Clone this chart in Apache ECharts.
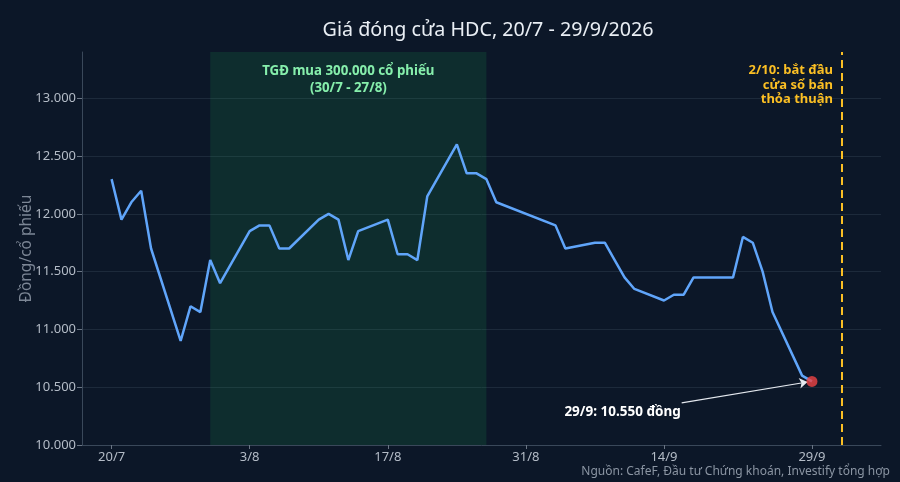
<!DOCTYPE html>
<html>
<head>
<meta charset="utf-8">
<script src="https://cdn.jsdelivr.net/npm/echarts@6/dist/echarts.min.js"></script>
<style>
html,body{margin:0;padding:0;background:#0c1728;}
#c{width:900px;height:482px;}
</style>
</head>
<body>
<div id="c"></div>
<script>
const dates = ['2026-07-20','2026-07-21','2026-07-22','2026-07-23','2026-07-24',
  '2026-07-27','2026-07-28','2026-07-29','2026-07-30','2026-07-31',
  '2026-08-03','2026-08-04','2026-08-05','2026-08-06','2026-08-07',
  '2026-08-10','2026-08-11','2026-08-12','2026-08-13','2026-08-14',
  '2026-08-17','2026-08-18','2026-08-19','2026-08-20','2026-08-21',
  '2026-08-24','2026-08-25','2026-08-26','2026-08-27','2026-08-28',
  '2026-09-03','2026-09-04',
  '2026-09-07','2026-09-08','2026-09-09','2026-09-10','2026-09-11',
  '2026-09-14','2026-09-15','2026-09-16','2026-09-17','2026-09-18',
  '2026-09-21','2026-09-22','2026-09-23','2026-09-24','2026-09-25',
  '2026-09-28','2026-09-29'];
const prices = [12300,11950,12100,12200,11700,
  10900,11200,11150,11600,11400,
  11850,11900,11900,11700,11700,
  11950,12000,11950,11600,11850,
  11950,11650,11650,11600,12150,
  12600,12350,12350,12300,12100,
  11900,11700,
  11750,11750,11600,11450,11350,
  11250,11300,11300,11450,11450,
  11450,11800,11750,11500,11150,
  10600,10550];
const xTickDates = ['2026-07-20','2026-08-03','2026-08-17','2026-08-31','2026-09-14','2026-09-29'];
const yTicks = [10000,10500,11000,11500,12000,12500,13000];
const xRange = ['2026-07-17','2026-10-06'];
const yRange = [10000,13400];
const buyPeriod = ['2026-07-30','2026-08-27'];
const sellWindowDate = '2026-10-02';
const titleText = 'Giá đóng cửa HDC, 20/7 - 29/9/2026';
const buyLabel = 'TGĐ mua 300.000 cổ phiếu\n(30/7 - 27/8)';
const sellLabel = '2/10: bắt đầu\ncửa sổ bán\nthỏa thuận';
const lastLabel = '29/9: 10.550 đồng';
const sourceText = 'Nguồn: CafeF, Đầu tư Chứng khoán, Investify tổng hợp';
const yName = 'Đồng/cổ phiếu';

function toTime(s){
  const p = s.split('T');
  const [y,m,d] = p[0].split('-').map(Number);
  let h = 0;
  if (p[1]) h = Number(p[1].split(':')[0]);
  return new Date(y, m-1, d, h).getTime();
}
function fmtNum(v){ return String(v).replace(/\B(?=(\d{3})+(?!\d))/g, '.'); }
function fmtDate(t){ const d = new Date(t); return d.getDate() + '/' + (d.getMonth()+1); }

const seriesData = dates.map((d,i)=>[toTime(d), prices[i]]);
const last = seriesData[seriesData.length-1];
const FONT = 'Noto Sans';

const chart = echarts.init(document.getElementById('c'));
chart.setOption({
  animation: false,
  backgroundColor: '#0c1728',
  textStyle: {fontFamily: FONT},
  title: {
    text: titleText,
    left: 483, top: 15, textAlign: 'center',
    textStyle: {color: '#e9eef4', fontSize: 19.7, fontWeight: 'normal', fontFamily: FONT}
  },
  graphic: [{
    type: 'text', right: 10, bottom: 4,
    style: {text: sourceText, fill: '#8b95a3', font: '12px "Noto Sans"'}
  }],
  grid: {left: 82, right: 19, top: 52, bottom: 37, containLabel: false},
  xAxis: {
    type: 'value',
    min: toTime(xRange[0]), max: toTime(xRange[1]),
    axisLine: {show: true, lineStyle: {color: '#3a485a'}},
    axisTick: {show: true, length: 4, lineStyle: {color: '#6b7685'}, customValues: xTickDates.map(toTime)},
    axisLabel: {color: '#b4bcc7', fontSize: 13, margin: 6, customValues: xTickDates.map(toTime), formatter: v => fmtDate(v)},
    splitLine: {show: false}
  },
  yAxis: {
    type: 'value',
    min: yRange[0], max: yRange[1],
    name: yName, nameLocation: 'middle', nameGap: 47, nameMoveOverlap: false,
    nameTextStyle: {color: '#7c8695', fontSize: 15.5},
    axisLine: {show: true, lineStyle: {color: '#3a485a'}},
    axisTick: {show: true, length: 5, lineStyle: {color: '#6b7685'}, customValues: yTicks},
    axisLabel: {color: '#b4bcc7', fontSize: 13, margin: 6, customValues: yTicks, formatter: v => fmtNum(v)},
    splitLine: {show: true, lineStyle: {color: '#1d2a3b', width: 1}}
  },
  series: [
    {
      type: 'line',
      data: seriesData,
      showSymbol: false,
      symbol: 'none',
      lineStyle: {color: '#60a5fa', width: 2.5},
      z: 3,
      markArea: {
        silent: true,
        itemStyle: {color: 'rgba(34,197,94,0.13)'},
        label: {show: true, position: 'insideTop', distance: 11, color: '#86efac', fontWeight: 'bold', fontSize: 13.3, lineHeight: 17, fontFamily: FONT, align: 'center'},
        data: [[{xAxis: toTime(buyPeriod[0]), name: buyLabel}, {xAxis: toTime(buyPeriod[1])}]]
      },
      markLine: {
        silent: true,
        symbol: ['none','none'],
        label: {show: false},
        lineStyle: {color: '#fbbf24', type: [8,5], width: 2},
        data: [{xAxis: toTime(sellWindowDate)}]
      }
    },
    {
      type: 'line',
      data: [],
      markLine: {
        silent: true,
        symbol: ['none','arrow'],
        symbolSize: 8,
        label: {show: false},
        lineStyle: {color: '#e5e9ef', type: 'solid', width: 1.2},
        data: [[{coord: [toTime('2026-09-15T19:00'), 10365]}, {coord: [toTime('2026-09-28T13:00'), 10545]}]]
      },
      markPoint: {
        silent: true,
        symbol: 'circle', symbolSize: 0,
        data: [
          {coord: [toTime('2026-09-15T17:00'), 10285],
           label: {show: true, position: 'inside', formatter: lastLabel, align: 'right', verticalAlign: 'middle', color: '#ffffff', fontWeight: 'bold', fontSize: 13.5, fontFamily: FONT}},
          {coord: [toTime('2026-10-01T03:00'), 13115],
           label: {show: true, position: 'inside', formatter: sellLabel, align: 'right', verticalAlign: 'middle', color: '#fbbf24', fontWeight: 'bold', fontSize: 13, lineHeight: 14.5, fontFamily: FONT}}
        ]
      }
    },
    {
      type: 'scatter',
      data: [last],
      symbolSize: 11,
      itemStyle: {color: '#ef4444'},
      z: 5
    }
  ]
});
</script>
</body>
</html>
